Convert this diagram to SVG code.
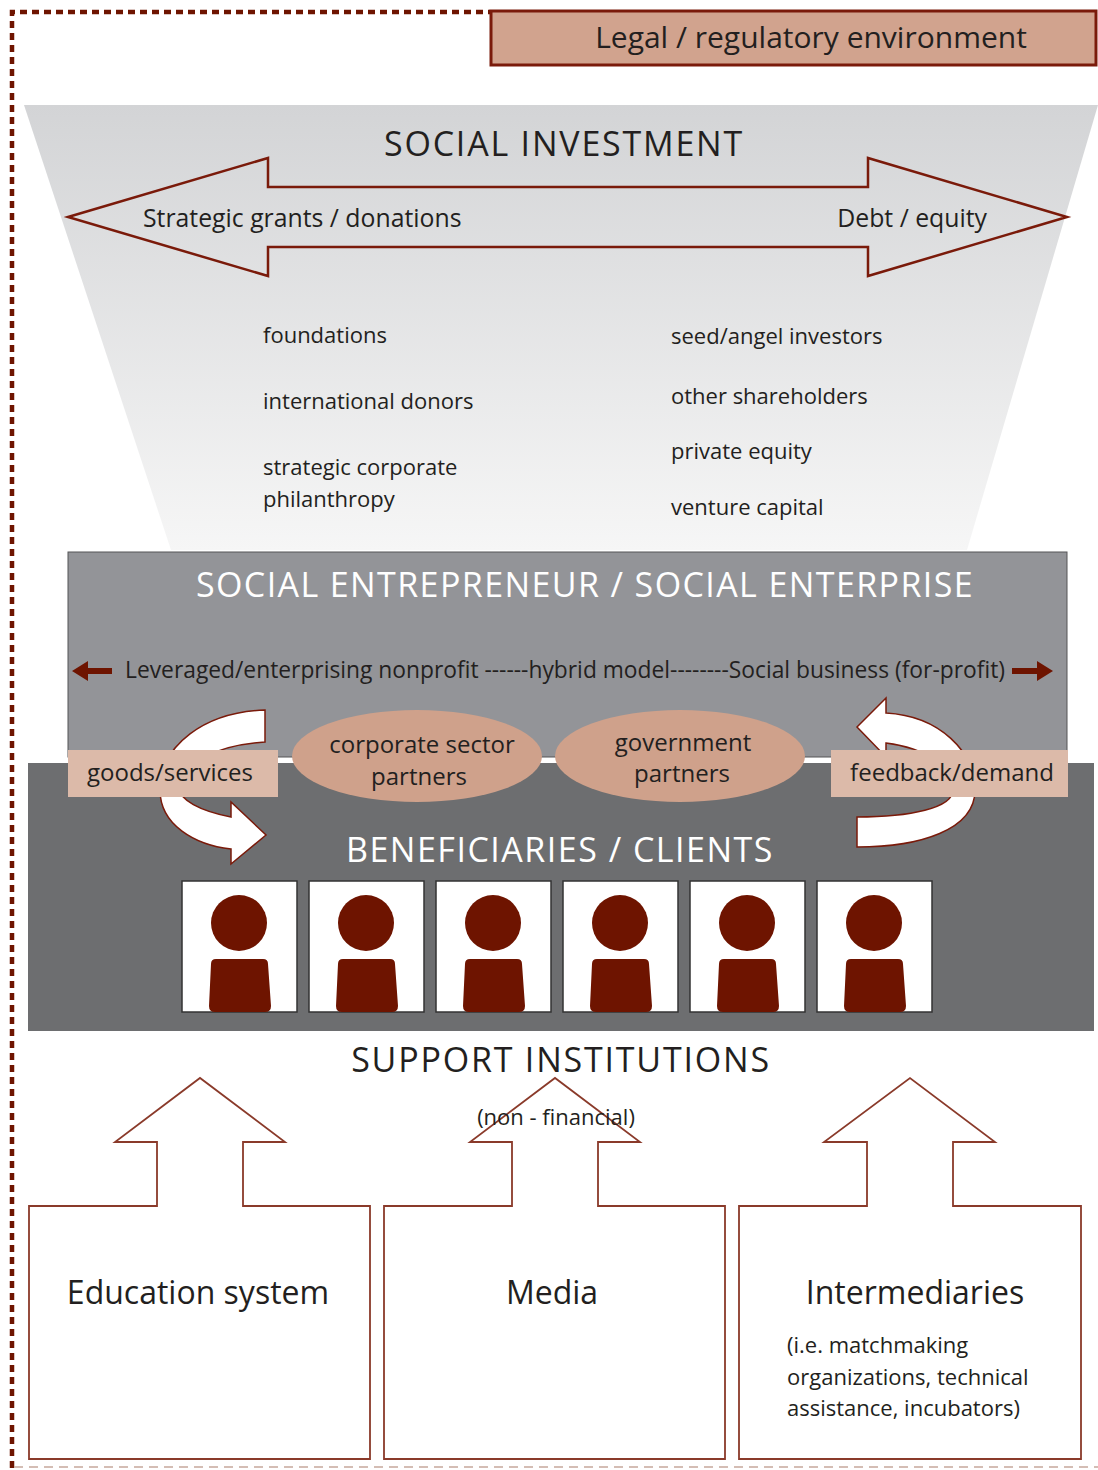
<svg xmlns="http://www.w3.org/2000/svg" width="1098" height="1470" viewBox="0 0 1098 1470">
<defs>
<linearGradient id="funnelGrad" x1="0" y1="0" x2="0" y2="1">
<stop offset="0" stop-color="#d3d4d6"/>
<stop offset="1" stop-color="#f6f6f6"/>
</linearGradient>
<style>
text{font-family:"Open Sans",Lato,"Liberation Sans",sans-serif;fill:#231f20}
.title{font-size:34px;letter-spacing:1.8px}
.white{fill:#ffffff}
.body{font-size:22px}
.mid{font-size:24px}
.big{font-size:32px}
.red{stroke:#7a1a0a;fill:none;stroke-width:2.5}
.curve{fill:#ffffff;stroke:#7a1a0a;stroke-width:1.5}
.person{fill:#6e1400}
.pbox{fill:#ffffff;stroke:#333333;stroke-width:1.5}
.oval{fill:#cfa18b}
.lab{fill:#dcbaa9}
.inst{fill:#ffffff;stroke:#8a3a2a;stroke-width:1.8}
</style>
</defs>
<rect x="0" y="0" width="1098" height="1470" fill="#ffffff"/>

<g id="frame">
<path d="M12,1468 L12,12 L490,12" fill="none" stroke="#6e1400" stroke-width="4.5" stroke-dasharray="7,5"/>
<line x1="14" y1="1467" x2="1098" y2="1467" stroke="#c6a89c" stroke-width="1.5" stroke-dasharray="9,6"/>
</g>

<g id="legal">
<rect x="491" y="11" width="605" height="54" fill="#d1a38e" stroke="#7a1a0a" stroke-width="3"/>
<text x="811" y="48" text-anchor="middle" style="font-size:30px">Legal / regulatory environment</text>
</g>

<g id="social-investment">
<polygon points="24,105 1098,105 967,550 171,550" fill="url(#funnelGrad)"/>
<text x="564" y="156" text-anchor="middle" class="title">SOCIAL INVESTMENT</text>
<path class="red" d="M68,217 L268,158 L268,187 L868,187 L868,158 L1067,217 L868,276 L868,247 L268,247 L268,276 Z"/>
<text x="143" y="227" class="mid" style="font-size:24.8px">Strategic grants / donations</text>
<text x="987" y="227" text-anchor="end" class="mid" style="font-size:24.8px">Debt / equity</text>
<text x="263" y="343" class="body">foundations</text>
<text x="263" y="409" class="body">international donors</text>
<text x="263" y="475" class="body">strategic corporate</text>
<text x="263" y="507" class="body">philanthropy</text>
<text x="671" y="344" class="body">seed/angel investors</text>
<text x="671" y="404" class="body">other shareholders</text>
<text x="671" y="459" class="body">private equity</text>
<text x="671" y="515" class="body">venture capital</text>
</g>

<g id="social-enterprise">
<rect x="68" y="552" width="999" height="205" fill="#939498" stroke="#555557" stroke-width="1"/>
<text x="585" y="597" text-anchor="middle" class="title white" style="letter-spacing:1.4px">SOCIAL ENTREPRENEUR / SOCIAL ENTERPRISE</text>
<text x="565" y="678" text-anchor="middle" class="body" style="font-size:22.8px">Leveraged/enterprising nonprofit ------hybrid model--------Social business (for-profit)</text>
<path class="person" d="M72,671 L88,661 L88,668 L112,668 L112,674 L88,674 L88,681 Z"/>
<path class="person" d="M1053,671 L1037,661 L1037,668 L1012,668 L1012,674 L1037,674 L1037,681 Z"/>
</g>

<g id="beneficiaries">
<rect x="28" y="763" width="1066" height="268" fill="#6d6e70"/>
<text x="560" y="862" text-anchor="middle" class="title white" style="letter-spacing:1.5px">BENEFICIARIES / CLIENTS</text>
<g id="person-1"><rect class="pbox" x="182" y="881" width="115" height="131"/><circle class="person" cx="239" cy="923" r="28"/><path class="person" d="M216,959 L263,959 Q268,959 268,964 L271,1006 Q271,1012 265,1012 L215,1012 Q209,1012 209,1006 L211,964 Q211,959 216,959 Z"/></g>
<g id="person-2"><rect class="pbox" x="309" y="881" width="115" height="131"/><circle class="person" cx="366" cy="923" r="28"/><path class="person" transform="translate(127,0)" d="M216,959 L263,959 Q268,959 268,964 L271,1006 Q271,1012 265,1012 L215,1012 Q209,1012 209,1006 L211,964 Q211,959 216,959 Z"/></g>
<g id="person-3"><rect class="pbox" x="436" y="881" width="115" height="131"/><circle class="person" cx="493" cy="923" r="28"/><path class="person" transform="translate(254,0)" d="M216,959 L263,959 Q268,959 268,964 L271,1006 Q271,1012 265,1012 L215,1012 Q209,1012 209,1006 L211,964 Q211,959 216,959 Z"/></g>
<g id="person-4"><rect class="pbox" x="563" y="881" width="115" height="131"/><circle class="person" cx="620" cy="923" r="28"/><path class="person" transform="translate(381,0)" d="M216,959 L263,959 Q268,959 268,964 L271,1006 Q271,1012 265,1012 L215,1012 Q209,1012 209,1006 L211,964 Q211,959 216,959 Z"/></g>
<g id="person-5"><rect class="pbox" x="690" y="881" width="115" height="131"/><circle class="person" cx="747" cy="923" r="28"/><path class="person" transform="translate(508,0)" d="M216,959 L263,959 Q268,959 268,964 L271,1006 Q271,1012 265,1012 L215,1012 Q209,1012 209,1006 L211,964 Q211,959 216,959 Z"/></g>
<g id="person-6"><rect class="pbox" x="817" y="881" width="115" height="131"/><circle class="person" cx="874" cy="923" r="28"/><path class="person" transform="translate(635,0)" d="M216,959 L263,959 Q268,959 268,964 L271,1006 Q271,1012 265,1012 L215,1012 Q209,1012 209,1006 L211,964 Q211,959 216,959 Z"/></g>
</g>

<g id="connectors">
<path class="curve" d="M265,710 C205,712 160,745 160,790 C160,825 195,845 231,849 L231,864 L266,835 L231,802 L231,817 C200,811 179,800 179,787 C179,765 215,745 265,742 Z"/>
<path class="curve" d="M857,727 L886,698 L886,713 C940,716 975,752 975,790 C975,830 920,847 857,847 L857,817 C910,817 953,808 953,790 C953,766 925,748 886,743 L886,757 Z"/>
</g>

<g id="goods-services">
<rect class="lab" x="68" y="750" width="210" height="47"/>
<text x="170" y="781" text-anchor="middle" class="mid">goods/services</text>
</g>
<g id="feedback-demand">
<rect class="lab" x="831" y="750" width="237" height="47"/>
<text x="952" y="781" text-anchor="middle" class="mid">feedback/demand</text>
</g>
<g id="corporate-partners">
<ellipse class="oval" cx="417" cy="756" rx="125" ry="46"/>
<text x="422" y="753" text-anchor="middle" class="mid">corporate sector</text>
<text x="419" y="785" text-anchor="middle" class="mid">partners</text>
</g>
<g id="government-partners">
<ellipse class="oval" cx="680" cy="756" rx="125" ry="46"/>
<text x="683" y="751" text-anchor="middle" class="mid">government</text>
<text x="682" y="782" text-anchor="middle" class="mid">partners</text>
</g>

<g id="support">
<text x="561" y="1072" text-anchor="middle" class="title">SUPPORT INSTITUTIONS</text>
</g>
<g id="education">
<path class="inst" d="M29,1459 L29,1206 L157,1206 L157,1142 L115,1142 L200,1078 L285,1142 L243,1142 L243,1206 L370,1206 L370,1459 Z"/>
<text x="198" y="1304" text-anchor="middle" class="big">Education system</text>
</g>
<g id="media">
<path class="inst" d="M384,1459 L384,1206 L512,1206 L512,1142 L470,1142 L555,1078 L640,1142 L598,1142 L598,1206 L725,1206 L725,1459 Z"/>
<text x="552" y="1304" text-anchor="middle" class="big">Media</text>
</g>
<text x="556" y="1125" text-anchor="middle" class="body">(non - financial)</text>
<g id="intermediaries">
<path class="inst" d="M739,1459 L739,1206 L867,1206 L867,1142 L824,1142 L910,1078 L995,1142 L953,1142 L953,1206 L1081,1206 L1081,1459 Z"/>
<text x="915" y="1304" text-anchor="middle" class="big">Intermediaries</text>
<text x="787" y="1353" class="body">(i.e. matchmaking</text>
<text x="787" y="1385" class="body">organizations, technical</text>
<text x="787" y="1416" class="body">assistance, incubators)</text>
</g>
</svg>
